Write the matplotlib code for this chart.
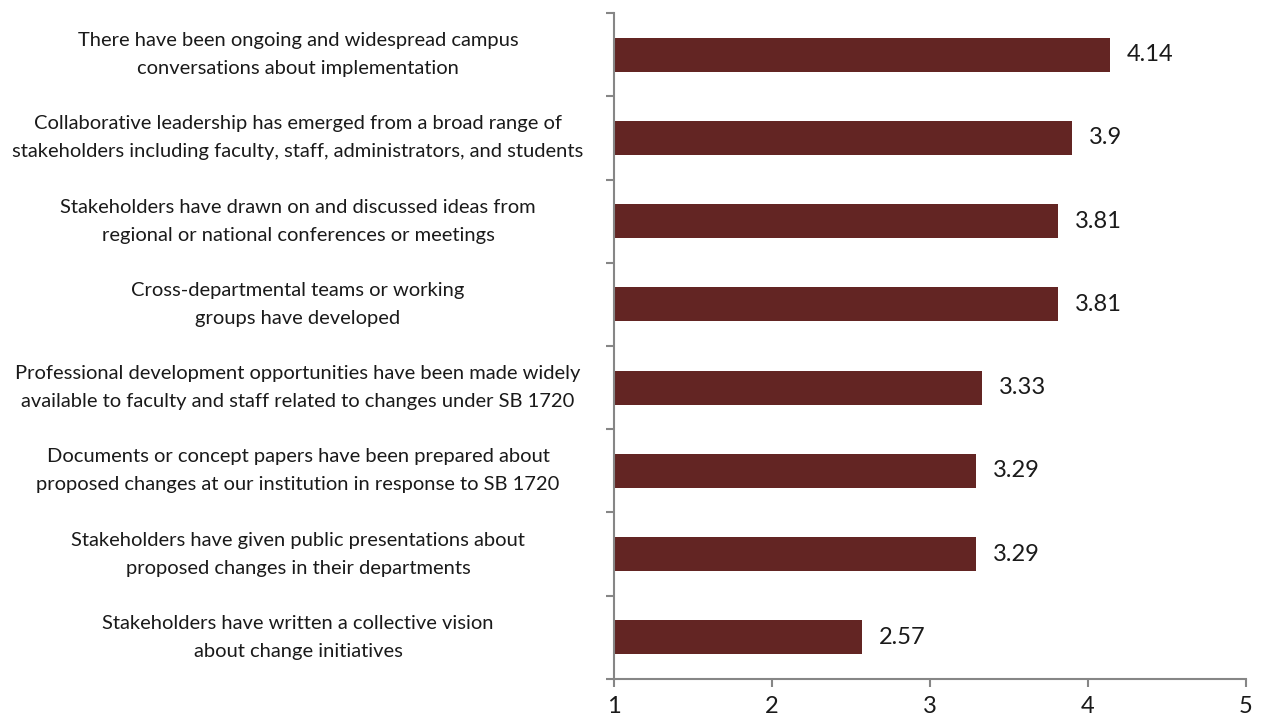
import matplotlib.pyplot as plt
import numpy as np

plt.rcParams['font.family'] = ['Lato', 'DejaVu Sans']

# survey items, top to bottom, with mean ratings
statements = [
    "There have been ongoing and widespread campus\nconversations about implementation",
    "Collaborative leadership has emerged from a broad range of\nstakeholders including faculty, staff, administrators, and students",
    "Stakeholders have drawn on and discussed ideas from\nregional or national conferences or meetings",
    "Cross-departmental teams or working\ngroups have developed",
    "Professional development opportunities have been made widely\navailable to faculty and staff related to changes under SB 1720",
    "Documents or concept papers have been prepared about\nproposed changes at our institution in response to SB 1720",
    "Stakeholders have given public presentations about\nproposed changes in their departments",
    "Stakeholders have written a collective vision\nabout change initiatives",
]
mean_scores = [4.14, 3.9, 3.81, 3.81, 3.33, 3.29, 3.29, 2.57]
value_labels = ["4.14", "3.9", "3.81", "3.81", "3.33", "3.29", "3.29", "2.57"]
x_ticks = [1, 2, 3, 4, 5]

bar_color = "#632523"
axis_color = "#868686"

fig = plt.figure(figsize=(12.65, 7.24), dpi=100)
ax = fig.add_axes([0.4854, 0.0622, 0.4996, 0.9198])

pos = np.arange(len(statements))
start = 1
ax.barh(pos, np.array(mean_scores) - start, left=start, height=0.41, color=bar_color)

for p, v, lab in zip(pos, mean_scores, value_labels):
    ax.annotate(lab, (v, p), xytext=(12, 0), textcoords="offset points",
                va="center", ha="left", fontsize=17, color="#1a1a1a")

for p, s in zip(pos, statements):
    ax.text(-0.5, p, s, transform=ax.get_yaxis_transform(), ha="center",
            va="center", multialignment="center", fontsize=14.5, color="#1a1a1a",
            linespacing=1.8)

ax.set_xlim(1, 5)
ax.set_ylim(len(statements) - 0.5, -0.5)
ax.set_xticks(x_ticks)
ax.set_xticklabels([str(t) for t in x_ticks], fontsize=17)
ax.set_yticks(np.arange(-0.5, len(statements), 1.0))
ax.set_yticklabels([])

for side in ["top", "right"]:
    ax.spines[side].set_visible(False)
for side in ["left", "bottom"]:
    ax.spines[side].set_color(axis_color)
    ax.spines[side].set_linewidth(1.5)
ax.tick_params(axis="both", colors=axis_color, width=1.5, length=6, direction="out")
ax.tick_params(axis="x", labelcolor="#1a1a1a", pad=6)

fig.savefig("out.png", dpi=100)
